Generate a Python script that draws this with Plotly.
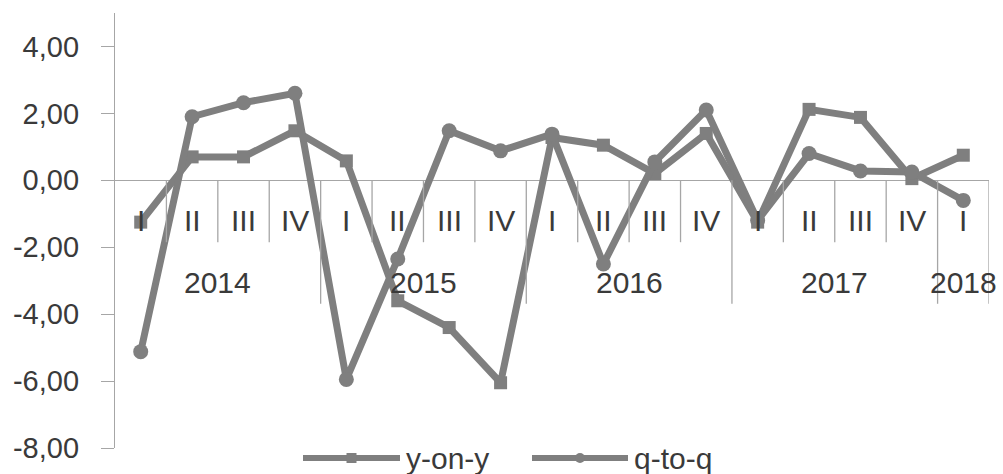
import plotly.graph_objects as go

quarters = ["I", "II", "III", "IV"] * 4 + ["I"]
years = ["2014", "2015", "2016", "2017", "2018"]
year_sizes = [4, 4, 4, 4, 1]

y_on_y = [-1.25, 0.70, 0.70, 1.48, 0.58, -3.60, -4.40, -6.05,
          1.28, 1.05, 0.20, 1.40, -1.25, 2.12, 1.88, 0.05, 0.75]
q_to_q = [-5.12, 1.90, 2.32, 2.60, -5.95, -2.35, 1.48, 0.88,
          1.38, -2.50, 0.55, 2.10, -1.20, 0.80, 0.28, 0.25, -0.60]

series_names = ["y-on-y", "q-to-q"]
series_symbols = ["square", "circle"]

ytick_vals = [-8, -6, -4, -2, 0, 2, 4]
ytick_text = ["-8,00", "-6,00", "-4,00", "-2,00", "0,00", "2,00", "4,00"]

LINE = "#7f7f7f"
AXIS = "#a6a6a6"
TEXT = "#3a3a3a"
FONT = "Liberation Sans, Arial, sans-serif"
FS = 30

W, H = 1003, 474
ML, MR, MT, MB = 115, 14, 13, 26
PW, PH = W - ML - MR, H - MT - MB


def px_x(p):
    return (p - ML) / PW


def px_y(p):
    return (H - MB - p) / PH


x = list(range(len(quarters)))

fig = go.Figure()
for vals, name, sym, msize in zip([y_on_y, q_to_q], series_names, series_symbols, [13, 15]):
    fig.add_trace(go.Scatter(
        x=x, y=vals, name=name, mode="lines+markers",
        line=dict(color=LINE, width=7),
        marker=dict(symbol=sym, size=msize, color=LINE),
        showlegend=False,
    ))

# multi-level category labels
q_label_y = -1.2
y_label_y = -3.06
q_sep_y = -1.85
y_sep_y = -3.69

annotations = []
for i, q in enumerate(quarters):
    annotations.append(dict(x=i, y=q_label_y, xref="x", yref="y", text=q,
                            showarrow=False, font=dict(family=FONT, size=FS, color=TEXT),
                            xanchor="center", yanchor="middle"))
shapes = []
start = 0
year_bounds = []
for yr, n in zip(years, year_sizes):
    center = start + (n - 1) / 2
    annotations.append(dict(x=center, y=y_label_y, xref="x", yref="y", text=yr,
                            showarrow=False, font=dict(family=FONT, size=FS, color=TEXT),
                            xanchor="center", yanchor="middle"))
    start += n
    year_bounds.append(start - 0.5)

for b in range(1, len(quarters) + 1):
    bx = b - 0.5
    ybot = y_sep_y if bx in year_bounds else q_sep_y
    shapes.append(dict(type="line", xref="x", yref="y", x0=bx, x1=bx, y0=0, y1=ybot,
                       line=dict(color=AXIS, width=1.3)))

# custom legend (long line samples like the original)
leg_y = 458
leg_items = [(303, 400), (532, 628)]
for (x0, x1), name, sym in zip(leg_items, series_names, series_symbols):
    shapes.append(dict(type="line", xref="paper", yref="paper",
                       x0=px_x(x0), x1=px_x(x1), y0=px_y(leg_y), y1=px_y(leg_y),
                       line=dict(color=LINE, width=6)))
    cx = (x0 + x1) / 2
    r = 5
    shapes.append(dict(type="rect" if sym == "square" else "circle",
                       xref="paper", yref="paper",
                       x0=px_x(cx - r), x1=px_x(cx + r),
                       y0=px_y(leg_y + r), y1=px_y(leg_y - r),
                       line=dict(width=0), fillcolor=LINE))
    annotations.append(dict(x=px_x(x1 + 4), y=px_y(leg_y), xref="paper", yref="paper",
                            text=name, showarrow=False, xanchor="left", yanchor="middle",
                            font=dict(family=FONT, size=FS, color=TEXT)))

fig.update_layout(
    width=W, height=H,
    margin=dict(l=ML, r=MR, t=MT, b=MB, autoexpand=False),
    paper_bgcolor="white", plot_bgcolor="white",
    font=dict(family=FONT, size=FS, color=TEXT),
    showlegend=False,
    annotations=annotations,
    shapes=shapes,
)
fig.update_xaxes(range=[-0.5, len(quarters) - 0.5], showgrid=False, zeroline=False,
                 showline=False, showticklabels=False, ticks="", fixedrange=True)
fig.update_yaxes(range=[-8, 5], tickvals=ytick_vals, ticktext=ytick_text,
                 showgrid=False, zeroline=True, zerolinecolor=AXIS, zerolinewidth=1.3,
                 showline=True, linecolor=AXIS, linewidth=1.3,
                 ticks="outside", ticklen=13, tickcolor=AXIS, tickwidth=1.3,
                 tickfont=dict(family=FONT, size=29, color=TEXT),
                 ticklabelstandoff=16)

fig.write_html("out.html")
